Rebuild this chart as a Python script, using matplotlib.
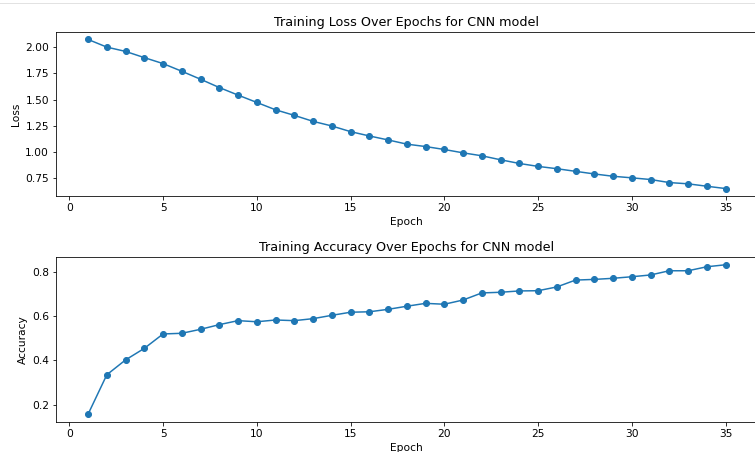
import numpy as np
import matplotlib
matplotlib.use("Agg")
import matplotlib.pyplot as plt
from matplotlib.lines import Line2D
from matplotlib.ticker import MultipleLocator

epochs = list(range(1, 36))

train_loss = [2.073, 2.000, 1.959, 1.900, 1.843, 1.770, 1.694, 1.615, 1.543, 1.473,
              1.403, 1.350, 1.293, 1.249, 1.195, 1.154, 1.116, 1.076, 1.053, 1.025,
              0.993, 0.965, 0.927, 0.892, 0.864, 0.842, 0.817, 0.792, 0.770, 0.755,
              0.739, 0.710, 0.698, 0.675, 0.653]

train_acc = [0.157, 0.335, 0.402, 0.454, 0.519, 0.522, 0.540, 0.561, 0.579, 0.574,
             0.582, 0.579, 0.588, 0.603, 0.617, 0.619, 0.630, 0.644, 0.657, 0.653,
             0.672, 0.704, 0.707, 0.713, 0.714, 0.731, 0.762, 0.765, 0.770, 0.777,
             0.785, 0.804, 0.804, 0.822, 0.831]

plt.rcParams.update({
    "font.size": 10.6,
    "axes.titlesize": 12.7,
    "axes.labelsize": 10.6,
    "xtick.labelsize": 10.6,
    "ytick.labelsize": 10.6,
})

W, H, DPI = 755, 452, 72
fig = plt.figure(figsize=(W / DPI, H / DPI), dpi=DPI)

def px_axes(left, top, right, bottom):
    return fig.add_axes([left / W, 1 - bottom / H, (right - left) / W, (bottom - top) / H])

ax1 = px_axes(56.2, 32, 757.4, 196)
ax1.plot(epochs, train_loss, marker="o")
ax1.set_title("Training Loss Over Epochs for CNN model")
ax1.set_xlabel("Epoch")
ax1.set_ylabel("Loss")
ax1.xaxis.set_major_locator(MultipleLocator(5))
ax1.yaxis.set_major_locator(MultipleLocator(0.25))
ax1.yaxis.set_major_formatter("{x:.2f}")

ax2 = px_axes(56.2, 257.3, 757.4, 421.7)
ax2.plot(epochs, train_acc, marker="o")
ax2.set_title("Training Accuracy Over Epochs for CNN model")
ax2.set_xlabel("Epoch")
ax2.set_ylabel("Accuracy")
ax2.xaxis.set_major_locator(MultipleLocator(5))
ax2.yaxis.set_major_locator(MultipleLocator(0.2))
ax2.yaxis.set_major_formatter("{x:.1f}")

# thin frame line along the top edge
fig.add_artist(Line2D([0, 1], [1 - 3 / H, 1 - 3 / H], transform=fig.transFigure,
                      color="#e2e2e2", linewidth=1))

fig.savefig("out.png", dpi=DPI)
